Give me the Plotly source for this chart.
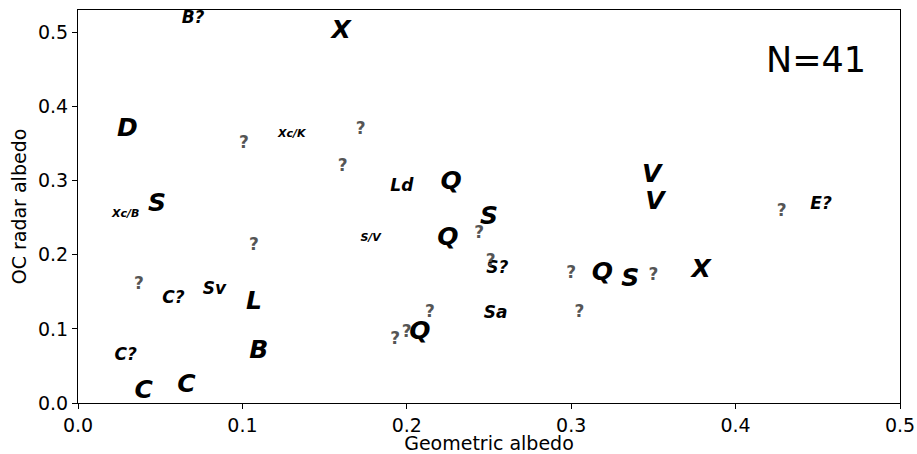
import plotly.graph_objects as go

labels = ["B?", "X", "D", "?", "Xc/K", "?", "?", "Ld", "Q", "V", "V", "?", "E?",
          "Xc/B", "S", "S", "S/V", "Q", "?", "?", "?", "S?", "?", "Q", "S", "?", "X",
          "?", "C?", "Sv", "L", "?", "Sa", "?", "?", "Q", "?", "B", "C?", "C", "C"]
geo_albedo = [0.070, 0.160, 0.030, 0.101, 0.130, 0.172, 0.161, 0.197, 0.227, 0.349, 0.351, 0.428, 0.452,
              0.029, 0.048, 0.250, 0.178, 0.225, 0.244, 0.107, 0.251, 0.255, 0.300, 0.319, 0.336, 0.350, 0.379,
              0.037, 0.058, 0.083, 0.107, 0.214, 0.254, 0.305, 0.200, 0.208, 0.193, 0.110, 0.029, 0.040, 0.066]
oc_albedo = [0.518, 0.501, 0.369, 0.349, 0.362, 0.369, 0.319, 0.291, 0.297, 0.307, 0.270, 0.258, 0.268,
             0.254, 0.268, 0.250, 0.222, 0.222, 0.228, 0.212, 0.190, 0.181, 0.174, 0.174, 0.166, 0.172, 0.178,
             0.159, 0.141, 0.153, 0.135, 0.122, 0.120, 0.122, 0.095, 0.095, 0.085, 0.069, 0.064, 0.015, 0.023]
n_label = "N=41"
x_ticks = [0.0, 0.1, 0.2, 0.3, 0.4, 0.5]
y_ticks = [0.0, 0.1, 0.2, 0.3, 0.4, 0.5]


def group_of(lab):
    if lab == "?":
        return "unknown"
    if "/" in lab:
        return "tiny"
    if len(lab) == 1:
        return "big"
    return "medium"


styles = {
    "big": dict(size=25, color="black", style="italic"),
    "medium": dict(size=17, color="black", style="italic"),
    "tiny": dict(size=11, color="black", style="italic"),
    "unknown": dict(size=17, color="#555555", style="normal"),
}

fig = go.Figure()
for g, st in styles.items():
    idx = [i for i, l in enumerate(labels) if group_of(l) == g]
    fig.add_trace(go.Scatter(
        x=[geo_albedo[i] for i in idx],
        y=[oc_albedo[i] for i in idx],
        text=[labels[i] for i in idx],
        mode="text",
        textposition="middle center",
        textfont=dict(family="DejaVu Sans", size=st["size"], color=st["color"],
                      weight="bold", style=st["style"]),
        showlegend=False,
        hoverinfo="skip",
    ))

fig.add_annotation(text=n_label, xref="paper", yref="paper", x=0.898, y=0.872,
                   showarrow=False, font=dict(family="DejaVu Sans", size=35, color="black"),
                   xanchor="center", yanchor="middle")

axis_common = dict(showline=True, linecolor="black", linewidth=1, mirror=True,
                   ticks="outside", ticklen=5, tickcolor="black", showgrid=False,
                   zeroline=False, automargin=False,
                   tickfont=dict(family="DejaVu Sans", size=19, color="black"),
                   title_font=dict(family="DejaVu Sans", size=19, color="black"))

fig.update_layout(
    width=917, height=454,
    margin=dict(l=78, r=17, t=10, b=51),
    plot_bgcolor="white", paper_bgcolor="white",
    xaxis=dict(range=[0, 0.5], tickvals=x_ticks, ticktext=[f"{v:.1f}" for v in x_ticks],
               title=dict(text="Geometric albedo", standoff=4), **axis_common),
    yaxis=dict(range=[0, 0.53], tickvals=y_ticks, ticktext=[f"{v:.1f}" for v in y_ticks],
               title=dict(text="OC radar albedo", standoff=6), **axis_common),
)

fig.write_html("out.html")
